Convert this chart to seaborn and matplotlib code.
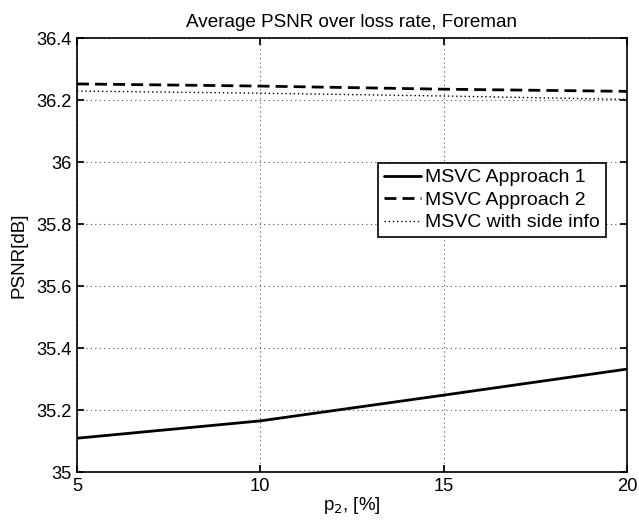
"""Average PSNR over loss rate, Foreman (MATLAB-style line chart)."""

import matplotlib

matplotlib.use("Agg")

import matplotlib.pyplot as plt
import pandas as pd
import seaborn as sns

loss_rate = [5, 10, 15, 20]
approach1 = [35.109, 35.165, 35.248, 35.332]
approach2 = [36.252, 36.245, 36.235, 36.228]
side_info = [36.229, 36.222, 36.213, 36.202]
series_names = ["MSVC Approach 1", "MSVC Approach 2", "MSVC with side info"]

sns.set_theme(style="ticks")
plt.rcParams["font.family"] = ["Liberation Sans", "DejaVu Sans"]
plt.rcParams["text.color"] = "black"
plt.rcParams["axes.labelcolor"] = "black"

df = pd.DataFrame({
    "p2": loss_rate * 3,
    "psnr": approach1 + approach2 + side_info,
    "series": [n for n in series_names for _ in loss_rate],
})

fig = plt.figure(figsize=(6.39, 5.21), dpi=100)
ax = fig.add_axes([0.1205, 0.094, 0.8605, 0.833])

styles = {"MSVC Approach 1": "-", "MSVC Approach 2": (0, (4.3, 2.2)), "MSVC with side info": (0, (1, 2))}
widths = {"MSVC Approach 1": 2.0, "MSVC Approach 2": 2.0, "MSVC with side info": 1.0}
for name in series_names:
    sub = df[df["series"] == name]
    sns.lineplot(data=sub, x="p2", y="psnr", ax=ax, color="black",
                 linestyle=styles[name], linewidth=widths[name], label=name)

ax.set_xlim(5, 20)
ax.set_ylim(35, 36.4)
ax.set_xticks([5, 10, 15, 20])
ax.set_yticks([35, 35.2, 35.4, 35.6, 35.8, 36, 36.2, 36.4])
ax.set_yticklabels(["35", "35.2", "35.4", "35.6", "35.8", "36", "36.2", "36.4"])
ax.grid(True, color="#555555", linestyle=(0, (1, 3)), linewidth=0.8)
ax.tick_params(direction="in", length=5, top=True, right=True, labelsize=13.2, colors="black", pad=4)
for s in ax.spines.values():
    s.set_linewidth(1.2)
    s.set_color("black")

ax.set_title("Average PSNR over loss rate, Foreman", fontsize=13.6, pad=8, color="black")
ax.set_xlabel("p$_2$, [%]", fontsize=13.5, labelpad=0, color="black")
ax.set_ylabel("PSNR[dB]", fontsize=13.5, labelpad=6, color="black")

leg = ax.legend(loc="upper right", bbox_to_anchor=(0.962, 0.712), fontsize=14,
                frameon=True, fancybox=False, edgecolor="black", framealpha=1,
                handlelength=1.9, handletextpad=0.25, borderpad=0.3, labelspacing=0.25,
                borderaxespad=0, labelcolor="black")
leg.get_frame().set_linewidth(1.2)

fig.savefig("out.png", dpi=100)
